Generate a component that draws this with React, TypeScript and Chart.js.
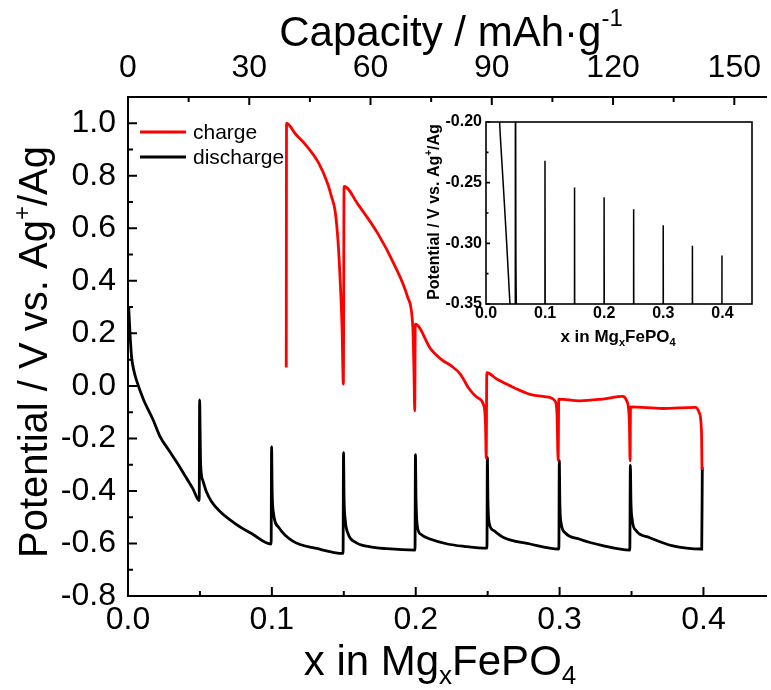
import React, { useEffect, useRef } from 'react';
import { Chart, registerables } from 'chart.js';
Chart.register(...registerables);

// ---------- data ----------
const SERIES_LABELS = ['charge', 'discharge'];

const DIS_X = [
  0.0005, 0.0015, 0.0025, 0.004, 0.006, 0.0106, 0.0175, 0.022, 0.029, 0.035, 0.0405, 0.045, 0.0495,
  0.0498, 0.0501, 0.0505, 0.052, 0.0543, 0.058, 0.0634, 0.075, 0.0864, 0.0995,
  0.0998, 0.1002, 0.101, 0.1048, 0.114, 0.132, 0.1495,
  0.1498, 0.1502, 0.151, 0.153, 0.158, 0.1676, 0.18, 0.1995,
  0.1998, 0.2002, 0.201, 0.2035, 0.2105, 0.222, 0.2336, 0.2495,
  0.2498, 0.2502, 0.251, 0.254, 0.261, 0.2795, 0.2995,
  0.2998, 0.3002, 0.301, 0.304, 0.314, 0.33, 0.3488,
  0.3492, 0.3496, 0.3505, 0.353, 0.3623, 0.378, 0.3988, 0.3992,
];
const DIS_Y = [
  0.3, 0.19, 0.11, 0.06, 0.02, -0.05, -0.13, -0.19, -0.25, -0.3, -0.35, -0.39, -0.437,
  -0.053, -0.16, -0.3, -0.36, -0.4, -0.44, -0.475, -0.526, -0.564, -0.602,
  -0.232, -0.4, -0.48, -0.539, -0.589, -0.62, -0.638,
  -0.254, -0.43, -0.51, -0.563, -0.595, -0.612, -0.62, -0.625,
  -0.262, -0.43, -0.53, -0.565, -0.584, -0.602, -0.611, -0.618,
  -0.272, -0.44, -0.52, -0.55, -0.577, -0.602, -0.621,
  -0.285, -0.45, -0.52, -0.56, -0.584, -0.608, -0.625,
  -0.302, -0.44, -0.51, -0.55, -0.577, -0.608, -0.621, -0.31,
];

const CHG_X = [
  0.11, 0.1102, 0.1163, 0.1232, 0.1324, 0.139, 0.1415, 0.144, 0.146, 0.1475, 0.1488, 0.1497,
  0.1502, 0.16, 0.174, 0.185, 0.1945, 0.198, 0.1988, 0.1993,
  0.1997, 0.2105, 0.218, 0.225, 0.231, 0.237, 0.243, 0.247, 0.2485, 0.249,
  0.2494, 0.2566, 0.268, 0.2795, 0.2933, 0.2968, 0.2982, 0.299,
  0.2994, 0.314, 0.33, 0.344, 0.3467, 0.3485, 0.349,
  0.3493, 0.3715, 0.3945, 0.397, 0.3986, 0.399,
];
const CHG_Y = [
  0.07, 1.0, 0.96, 0.92, 0.85, 0.767, 0.72, 0.665, 0.55, 0.4, 0.22, 0.007,
  0.76, 0.69, 0.577, 0.463, 0.336, 0.22, 0.05, -0.095,
  0.235, 0.14, 0.1, 0.075, 0.045, -0.01, -0.045, -0.07, -0.146, -0.275,
  0.05, 0.025, -0.006, -0.032, -0.044, -0.057, -0.108, -0.285,
  -0.05, -0.057, -0.05, -0.04, -0.057, -0.133, -0.285,
  -0.08, -0.086, -0.082, -0.101, -0.17, -0.32,
];

const X_TICKS = [0, 0.1, 0.2, 0.3, 0.4];
const X_MINOR = [0.05, 0.15, 0.25, 0.35];
const CAP_TICKS = [0, 30, 60, 90, 120, 150];
const CAP_MINOR = [15, 45, 75, 105, 135];
const Y_TICKS = [-0.8, -0.6, -0.4, -0.2, 0, 0.2, 0.4, 0.6, 0.8, 1.0];
const Y_MINOR = [-0.7, -0.5, -0.3, -0.1, 0.1, 0.3, 0.5, 0.7, 0.9];
const INSET_X_TICKS = [0, 0.1, 0.2, 0.3, 0.4];
const INSET_Y_TICKS = [-0.35, -0.3, -0.25, -0.2];
const INSET_Y_MINOR = [-0.325, -0.275, -0.225];

const FONT = "'Liberation Sans', Arial, Helvetica, sans-serif";

type Part = { t: string; s: number; dy: number };

function drawRich(
  ctx: CanvasRenderingContext2D,
  parts: Part[],
  x: number,
  y: number,
  weight: string,
  align: 'center' | 'left',
  rot = 0
) {
  ctx.save();
  ctx.translate(x, y);
  if (rot) ctx.rotate(rot);
  ctx.fillStyle = '#000';
  ctx.textBaseline = 'alphabetic';
  ctx.textAlign = 'left';
  let w = 0;
  for (const p of parts) {
    ctx.font = `${weight} ${p.s}px ${FONT}`;
    w += ctx.measureText(p.t).width;
  }
  let cx = align === 'center' ? -w / 2 : 0;
  for (const p of parts) {
    ctx.font = `${weight} ${p.s}px ${FONT}`;
    ctx.fillText(p.t, cx, p.dy);
    cx += ctx.measureText(p.t).width;
  }
  ctx.restore();
}

const mainDecor = {
  id: 'mainDecor',
  afterDraw(chart: any) {
    const { ctx, chartArea: a, scales } = chart;
    const sx = scales.x, sx2 = scales.x2, sy = scales.y;
    ctx.save();
    ctx.strokeStyle = '#000';
    ctx.lineWidth = 2;
    ctx.beginPath();
    ctx.moveTo(a.right, a.top);
    ctx.lineTo(a.left, a.top);
    ctx.lineTo(a.left, a.bottom);
    ctx.lineTo(a.right, a.bottom);
    ctx.stroke();
    ctx.beginPath();
    for (const v of X_TICKS) { const p = sx.getPixelForValue(v); ctx.moveTo(p, a.bottom); ctx.lineTo(p, a.bottom - 9); }
    for (const v of X_MINOR) { const p = sx.getPixelForValue(v); ctx.moveTo(p, a.bottom); ctx.lineTo(p, a.bottom - 5); }
    for (const v of CAP_TICKS) { const p = sx2.getPixelForValue(v); ctx.moveTo(p, a.top); ctx.lineTo(p, a.top + 8); }
    for (const v of CAP_MINOR) { const p = sx2.getPixelForValue(v); ctx.moveTo(p, a.top); ctx.lineTo(p, a.top + 5); }
    for (const v of Y_TICKS) { const p = sy.getPixelForValue(v); ctx.moveTo(a.left, p); ctx.lineTo(a.left + 9, p); }
    for (const v of Y_MINOR) { const p = sy.getPixelForValue(v); ctx.moveTo(a.left, p); ctx.lineTo(a.left + 5, p); }
    ctx.stroke();

    // legend
    const ds = chart.data.datasets;
    const rows = [132, 157];
    ds.forEach((d: any, i: number) => {
      ctx.strokeStyle = d.borderColor;
      ctx.lineWidth = 3;
      ctx.beginPath();
      ctx.moveTo(140, rows[i]);
      ctx.lineTo(186, rows[i]);
      ctx.stroke();
      ctx.fillStyle = '#000';
      ctx.font = `21px ${FONT}`;
      ctx.textBaseline = 'middle';
      ctx.textAlign = 'left';
      ctx.fillText(d.label, 193, rows[i] + 1);
    });
    ctx.restore();

    // titles
    drawRich(ctx, [
      { t: 'Capacity / mAh·g', s: 42, dy: 0 },
      { t: '-1', s: 24, dy: -20 },
    ], 451, 46, 'normal', 'center');
    drawRich(ctx, [
      { t: 'x in Mg', s: 42, dy: 0 },
      { t: 'x', s: 26, dy: 9 },
      { t: 'FePO', s: 42, dy: 0 },
      { t: '4', s: 26, dy: 9 },
    ], 440, 675, 'normal', 'center');
    drawRich(ctx, [
      { t: 'Potential / V vs. Ag', s: 40, dy: 0 },
      { t: '+', s: 24, dy: -17 },
      { t: '/Ag', s: 40, dy: 0 },
    ], 47, 352, 'normal', 'center', -Math.PI / 2);
  },
};

const insetDecor = {
  id: 'insetDecor',
  afterDraw(chart: any) {
    const { ctx, chartArea: a, scales } = chart;
    const sy = scales.y;
    ctx.save();
    ctx.strokeStyle = '#000';
    ctx.lineWidth = 1.6;
    ctx.strokeRect(a.left, a.top, a.right - a.left, a.bottom - a.top);
    ctx.beginPath();
    for (const v of INSET_Y_TICKS) { const p = sy.getPixelForValue(v); ctx.moveTo(a.left, p); ctx.lineTo(a.left + 4, p); }
    for (const v of INSET_Y_MINOR) { const p = sy.getPixelForValue(v); ctx.moveTo(a.left, p); ctx.lineTo(a.left + 2.5, p); }
    ctx.stroke();
    ctx.restore();
    drawRich(ctx, [
      { t: 'x in Mg', s: 17, dy: 0 },
      { t: 'x', s: 11, dy: 4 },
      { t: 'FePO', s: 17, dy: 0 },
      { t: '4', s: 11, dy: 4 },
    ], 218, 242, 'bold', 'center');
    drawRich(ctx, [
      { t: 'Potential / V vs. Ag', s: 16, dy: 0 },
      { t: '+', s: 10, dy: -7 },
      { t: '/Ag', s: 16, dy: 0 },
    ], 39, 112, 'bold', 'center', -Math.PI / 2);
  },
};

function pts(xs: number[], ys: number[]) {
  return xs.map((x, i) => ({ x, y: ys[i] }));
}

const noGrid = { display: false, drawTicks: false };
const noBorder = { display: false };

export default function App() {
  const mainRef = useRef<HTMLCanvasElement>(null);
  const insetRef = useRef<HTMLCanvasElement>(null);

  useEffect(() => {
    document.body.style.margin = '0';
    const main = new Chart(mainRef.current as HTMLCanvasElement, {
      type: 'line',
      data: {
        datasets: [
          { label: SERIES_LABELS[0], data: pts(CHG_X, CHG_Y), borderColor: '#ff0000', borderWidth: 2.8, pointRadius: 0, cubicInterpolationMode: 'monotone', xAxisID: 'x', yAxisID: 'y' },
          { label: SERIES_LABELS[1], data: pts(DIS_X, DIS_Y), borderColor: '#000000', borderWidth: 2.8, pointRadius: 0, cubicInterpolationMode: 'monotone', xAxisID: 'x', yAxisID: 'y' },
        ],
      },
      options: {
        animation: false,
        responsive: false,
        events: [],
        layout: { padding: 0 },
        plugins: { legend: { display: false }, tooltip: { enabled: false } },
        scales: {
          x: {
            type: 'linear', position: 'bottom', min: 0, max: 0.4442,
            grid: noGrid, border: noBorder,
            ticks: { font: { family: FONT, size: 32 }, color: '#000', padding: 5, autoSkip: false, maxRotation: 0, callback: (v: any) => Number(v).toFixed(1) },
            afterBuildTicks: (s: any) => { s.ticks = X_TICKS.map((v) => ({ value: v })); },
            afterFit: (s: any) => { s.height = 94; },
          },
          x2: {
            type: 'linear', position: 'top', min: 0, max: 158.1,
            grid: noGrid, border: noBorder,
            ticks: { font: { family: FONT, size: 32 }, color: '#000', padding: 10, autoSkip: false, maxRotation: 0, callback: (v: any) => String(v) },
            afterBuildTicks: (s: any) => { s.ticks = CAP_TICKS.map((v) => ({ value: v })); },
            afterFit: (s: any) => { s.height = 97; },
          },
          y: {
            type: 'linear', position: 'left', min: -0.8, max: 1.1,
            grid: noGrid, border: noBorder,
            ticks: { font: { family: FONT, size: 32 }, color: '#000', padding: 12, autoSkip: false, callback: (v: any) => Number(v).toFixed(1) },
            afterBuildTicks: (s: any) => { s.ticks = Y_TICKS.map((v) => ({ value: v })); },
            afterFit: (s: any) => { s.width = 128; },
          },
        },
      } as any,
      plugins: [mainDecor],
    });

    const inset = new Chart(insetRef.current as HTMLCanvasElement, {
      type: 'line',
      data: {
        datasets: [
          { label: SERIES_LABELS[1], data: pts(DIS_X, DIS_Y), borderColor: '#000000', borderWidth: 1.5, pointRadius: 0, cubicInterpolationMode: 'monotone' },
        ],
      },
      options: {
        animation: false,
        responsive: false,
        events: [],
        layout: { padding: { top: 22, right: 19, left: 0, bottom: 0 } },
        plugins: { legend: { display: false }, tooltip: { enabled: false } },
        scales: {
          x: {
            type: 'linear', position: 'bottom', min: 0, max: 0.45,
            grid: noGrid, border: noBorder,
            ticks: { font: { family: FONT, size: 16, weight: 'bold' }, color: '#000', padding: 0, autoSkip: false, maxRotation: 0, callback: (v: any) => Number(v).toFixed(1) },
            afterBuildTicks: (s: any) => { s.ticks = INSET_X_TICKS.map((v) => ({ value: v })); },
            afterFit: (s: any) => { s.height = 56; },
          },
          y: {
            type: 'linear', position: 'left', min: -0.35, max: -0.2,
            grid: noGrid, border: noBorder,
            ticks: { font: { family: FONT, size: 16, weight: 'bold' }, color: '#000', padding: 4, autoSkip: false, callback: (v: any) => Number(v).toFixed(2) },
            afterBuildTicks: (s: any) => { s.ticks = INSET_Y_TICKS.map((v) => ({ value: v })); },
            afterFit: (s: any) => { s.width = 86; },
          },
        },
      } as any,
      plugins: [insetDecor],
    });

    return () => {
      main.destroy();
      inset.destroy();
    };
  }, []);

  return (
    <div style={{ position: 'relative', width: 771, height: 690, overflow: 'hidden', background: '#fff' }}>
      <canvas ref={mainRef} width={771} height={690} style={{ position: 'absolute', left: 0, top: 0, width: 771, height: 690 }} />
      <canvas ref={insetRef} width={371} height={260} style={{ position: 'absolute', left: 400, top: 100, width: 371, height: 260 }} />
    </div>
  );
}
